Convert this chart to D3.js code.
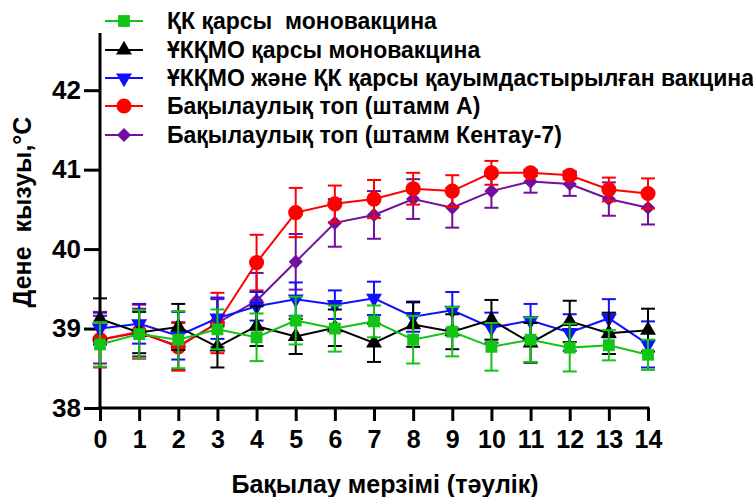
<!DOCTYPE html>
<html><head><meta charset="utf-8">
<script src="https://cdn.jsdelivr.net/npm/d3@7"></script>
<style>
html,body{margin:0;padding:0;background:#fff;}
svg{display:block;font-family:"Liberation Sans",Arial,sans-serif;font-weight:bold;}
text{white-space:pre;}
</style></head>
<body>
<svg id="chart" width="753" height="497"></svg>
<script>
const days = [0,1,2,3,4,5,6,7,8,9,10,11,12,13,14];
const yTicks = [38,39,40,41,42];
const seriesNames = [
  "ҚК қарсы  моновакцина",
  "ҰКҚМО қарсы моновакцина",
  "ҰКҚМО және ҚК қарсы қауымдастырылған вакцина",
  "Бақылаулық топ (штамм А)",
  "Бақылаулық топ (штамм Кентау-7)"
];
const green = [38.80,38.93,38.86,38.99,38.89,39.10,39.00,39.09,38.86,38.96,38.77,38.86,38.76,38.79,38.67];
const greenErr = [0.28,0.30,0.36,0.25,0.30,0.30,0.29,0.20,0.30,0.31,0.30,0.28,0.30,0.19,0.19];
const black = [39.12,38.95,39.02,38.77,39.03,38.90,39.01,38.82,39.05,38.96,39.11,38.82,39.09,38.94,38.98];
const blackErr = [0.26,0.26,0.29,0.26,0.25,0.22,0.23,0.24,0.28,0.22,0.25,0.25,0.26,0.26,0.27];
const blue = [39.00,39.06,38.91,39.13,39.28,39.37,39.30,39.38,39.15,39.23,39.01,39.10,38.95,39.13,38.80];
const blueErr = [0.20,0.25,0.30,0.26,0.18,0.21,0.18,0.21,0.19,0.23,0.19,0.21,0.23,0.24,0.29];
const red = [38.86,38.96,38.77,39.07,39.83,40.46,40.57,40.63,40.76,40.73,40.96,40.96,40.93,40.75,40.70];
const redErr = [0.35,0.34,0.30,0.38,0.35,0.31,0.23,0.24,0.20,0.20,0.15,0.04,0.05,0.15,0.19];
const purple = [38.86,38.95,38.78,39.07,39.35,39.84,40.33,40.43,40.63,40.52,40.73,40.85,40.82,40.63,40.52];
const purpleErr = [0.30,0.30,0.30,0.30,0.35,0.35,0.30,0.30,0.25,0.25,0.21,0.14,0.15,0.21,0.21];

const colors = ["#14c414","#000000","#1010ff","#ff0000","#70109e"];
const shapes = ["square","triUp","triDown","circle","diamond"];
const series = [
  {name:seriesNames[0], v:green, e:greenErr},
  {name:seriesNames[1], v:black, e:blackErr},
  {name:seriesNames[2], v:blue, e:blueErr},
  {name:seriesNames[3], v:red, e:redErr},
  {name:seriesNames[4], v:purple, e:purpleErr}
];

const svg = d3.select("#chart");
const x = d3.scaleLinear().domain([0,14]).range([100,648]);
const y = d3.scaleLinear().domain([38,42.72]).range([408,33]);

function symbolPath(shape){
  if(shape==="square") return d3.symbol(d3.symbolSquare,140)();
  if(shape==="circle") return d3.symbol(d3.symbolCircle,180)();
  if(shape==="triUp"||shape==="triDown") return d3.symbol(d3.symbolTriangle,110)();
  if(shape==="diamond") return d3.symbol(d3.symbolSquare,100)();
}
function symbolRot(shape){
  if(shape==="triDown") return 180;
  if(shape==="diamond") return 45;
  return 0;
}

// axes
const yAxis = d3.axisLeft(y).tickValues(yTicks).tickSize(16).tickPadding(3).tickFormat(d3.format("d"));
const gy = svg.append("g").attr("transform","translate(100,0)").call(yAxis);
gy.select(".domain").remove();
gy.append("line").attr("x1",0).attr("x2",0).attr("y1",y(42.72)).attr("y2",y(38)+1.5).attr("stroke","#000").attr("stroke-width",3);
gy.selectAll(".tick line").attr("stroke-width",3);
gy.selectAll(".tick text").attr("font-size",26).attr("font-weight","bold").attr("fill","#000").attr("font-family","Liberation Sans, Arial, sans-serif");

const xAxis = d3.axisBottom(x).tickValues(days).tickSize(13).tickPadding(9).tickFormat(d3.format("d"));
const gx = svg.append("g").attr("transform","translate(0,408)").call(xAxis);
gx.select(".domain").remove();
gx.append("line").attr("x1",x(0)-1.5).attr("x2",x(14)+1.5).attr("y1",0).attr("y2",0).attr("stroke","#000").attr("stroke-width",3);
gx.selectAll(".tick line").attr("stroke-width",3);
gx.selectAll(".tick text").attr("font-size",25).attr("font-weight","bold").attr("fill","#000").attr("font-family","Liberation Sans, Arial, sans-serif");

// axis titles
svg.append("text").attr("x",385).attr("y",493).attr("text-anchor","middle")
  .attr("font-size",25).text("Бақылау мерзімі (тәулік)");
svg.append("text").attr("transform","translate(31,212) rotate(-90)").attr("text-anchor","middle")
  .attr("font-size",25).text("Дене  кызуы,°С");

// data: draw last series first so first series is on top
const line = d3.line().x((d,i)=>x(days[i])).y(d=>y(d));
const order = [4,3,2,1,0];
order.forEach(si=>{
  const s = series[si], c = colors[si];
  const g = svg.append("g");
  s.v.forEach((v,i)=>{
    const cx = x(days[i]);
    g.append("line").attr("x1",cx).attr("x2",cx).attr("y1",y(v+s.e[i])).attr("y2",y(v-s.e[i])).attr("stroke",c).attr("stroke-width",2);
    [v+s.e[i], v-s.e[i]].forEach(t=>{
      g.append("line").attr("x1",cx-7).attr("x2",cx+7).attr("y1",y(t)).attr("y2",y(t)).attr("stroke",c).attr("stroke-width",2);
    });
  });
  g.append("path").datum(s.v).attr("d",line).attr("fill","none").attr("stroke",c).attr("stroke-width",2);
  g.selectAll("path.pt").data(s.v).enter().append("path").attr("class","pt")
    .attr("d",symbolPath(shapes[si]))
    .attr("transform",(d,i)=>`translate(${x(days[i])},${y(d)}) rotate(${symbolRot(shapes[si])})`)
    .attr("fill",c);
});

// legend
const legY = [21,50,78,106,135];
series.forEach((s,i)=>{
  const g = svg.append("g").attr("transform",`translate(0,${legY[i]})`);
  g.append("line").attr("x1",105).attr("x2",143).attr("y1",0).attr("y2",0).attr("stroke",colors[i]).attr("stroke-width",2);
  g.append("path").attr("d",symbolPath(shapes[i])).attr("transform",`translate(124,0) rotate(${symbolRot(shapes[i])})`).attr("fill",colors[i]);
  g.append("text").attr("x",167).attr("y",8).attr("font-size",23).text(s.name);
});
</script>
</body></html>
